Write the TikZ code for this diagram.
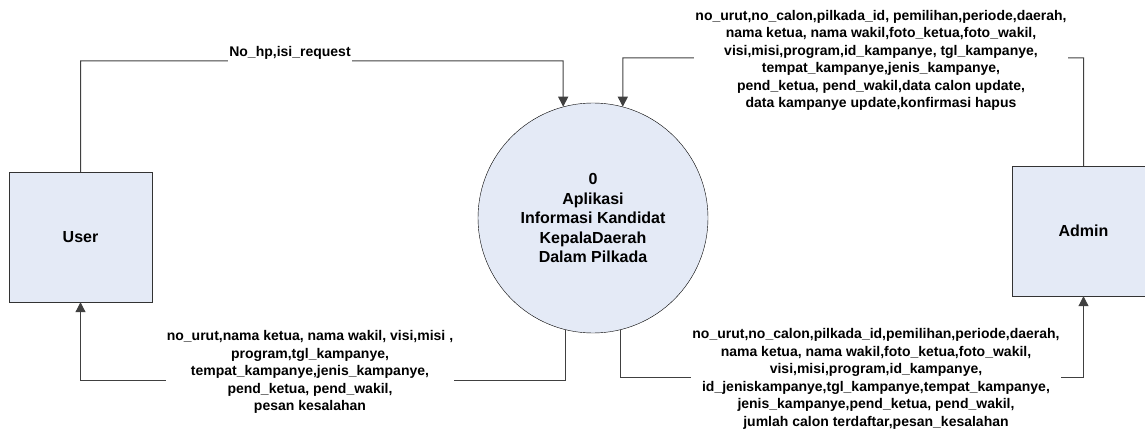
\documentclass[tikz,border=0pt]{standalone}
\usepackage{fontspec}
\setmainfont{Liberation Sans}
\usetikzlibrary{arrows.meta}
\definecolor{boxfill}{RGB}{228,234,246}

\tikzset{
  entity/.style={draw=black!80, fill=boxfill, minimum width=143pt, minimum height=130pt,
    font=\fontsize{16}{19.5}\selectfont\bfseries},
  process/.style={circle, draw=black, fill=boxfill, minimum size=230pt, inner sep=0pt,
    align=center, font=\fontsize{16}{19.5}\selectfont\bfseries},
  flow/.style={draw=black!75, line width=1pt, -{Triangle[width=10pt,length=10pt]}},
  flowlbl/.style={fill=white, align=center, inner xsep=1pt, inner ysep=2pt,
    font=\fontsize{14}{17.5}\selectfont\bfseries}
}

\begin{document}
\begin{tikzpicture}[x=1pt,y=-1pt]
  \useasboundingbox (0,0) rectangle (1145,438);
  \node[entity] (user) at (80.5,237) {User};
  \node[entity] (admin) at (1083.5,231) {Admin};
  \node[process] (proc) at (593,218) {0\\Aplikasi\\Informasi Kandidat\\KepalaDaerah\\Dalam Pilkada};
% corners of the flows
  \coordinate (pa) at (563.2,61);
  \coordinate (pb) at (622.8,58);
  \coordinate (ub) at (80.5,380);
  \coordinate (ab) at (1083.5,377);
  \draw[flow] (user.north) |- (pa) -- (proc.105);
  \draw[flow] (admin.north) |- (pb) -- (proc.75);
  \draw[flow] (proc.-104) |- (ub) -- (user.south);
  \draw[flow] (proc.-76) |- (ab) -- (admin.south);
% flow labels
  \node[flowlbl, anchor=south, inner ysep=3pt] (lblreq) at (290,63) {No\_hp,isi\_request};
  \node[flowlbl] (lbladmin) at (881,60.5) {no\_urut,no\_calon,pilkada\_id, pemilihan,periode,daerah,\\
    nama ketua, nama wakil,foto\_ketua,foto\_wakil,\\
    visi,misi,program,id\_kampanye, tgl\_kampanye,\\
    tempat\_kampanye,jenis\_kampanye,\\
    pend\_ketua, pend\_wakil,data calon update,\\
    data kampanye update,konfirmasi hapus};
  \node[flowlbl] (lbluser) at (310,372) {no\_urut,nama ketua, nama wakil, visi,misi ,\\
    program,tgl\_kampanye,\\
    tempat\_kampanye,jenis\_kampanye,\\
    pend\_ketua, pend\_wakil,\\
    pesan kesalahan};
  \node[flowlbl] (lbladmout) at (876,379) {no\_urut,no\_calon,pilkada\_id,pemilihan,periode,daerah,\\
    nama ketua, nama wakil,foto\_ketua,foto\_wakil,\\
    visi,misi,program,id\_kampanye,\\
    id\_jeniskampanye,tgl\_kampanye,tempat\_kampanye,\\
    jenis\_kampanye,pend\_ketua, pend\_wakil,\\
    jumlah calon terdaftar,pesan\_kesalahan};
\end{tikzpicture}
\end{document}
